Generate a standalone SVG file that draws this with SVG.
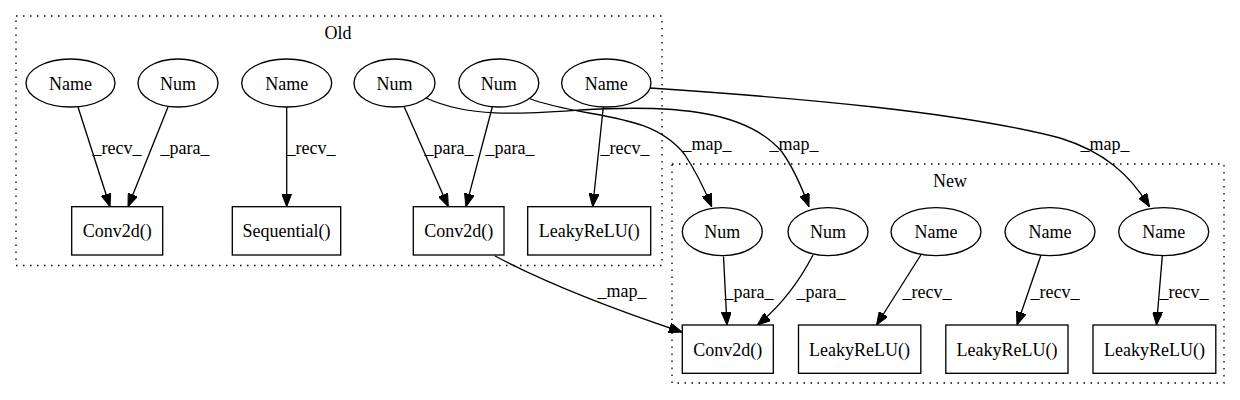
<svg xmlns="http://www.w3.org/2000/svg" width="1240" height="400" viewBox="0 0 1240 400" font-family="Liberation Serif, serif" font-size="18">
<style>
text{font-family:"Liberation Serif",serif;font-size:18px;fill:#000;text-anchor:middle}
.n ellipse,.n rect{fill:#fff;stroke:#000;stroke-width:1.33}
.cl{fill:none;stroke:#000;stroke-width:1.33;stroke-dasharray:1.5,5.5}
.e path{fill:none;stroke:#000;stroke-width:1.33;marker-end:url(#ah)}
</style>
<defs>
<marker id="ah" viewBox="0 0 13 10" refX="13" refY="5" markerWidth="13" markerHeight="10" markerUnits="userSpaceOnUse" orient="auto">
<path d="M0,0 L13,5 L0,10 z" fill="#000" stroke="#000" stroke-width="1"/>
</marker>
</defs>
<rect width="1240" height="400" fill="#fff"/>
<g id="clusters">
<rect class="cl" x="16" y="16" width="646" height="249.5"/>
<text x="338" y="39">Old</text>
<rect class="cl" x="672" y="164" width="552" height="219"/>
<text x="950" y="187">New</text>
</g>
<g id="connectors" class="e">
<path d="M78,107 L110,206.7"/>
<text x="117" y="154">_recv_</text>
<path d="M168,107 L128,206.7"/>
<text x="185" y="154">_para_</text>
<path d="M286.7,107 L286.7,206.7"/>
<text x="311" y="154">_recv_</text>
<path d="M404.3,107 L448.3,206.7"/>
<text x="449" y="154">_para_</text>
<path d="M492.3,107 L466,206.7"/>
<text x="510" y="154">_para_</text>
<path d="M603.3,107 L592.7,206.7"/>
<text x="625" y="154">_recv_</text>
<path d="M723.5,256.5 L727,325"/>
<text x="749" y="298">_para_</text>
<path d="M813,255 C800,280 782,305 757.3,325"/>
<text x="821" y="298">_para_</text>
<path d="M920.8,255 L876.5,325"/>
<text x="927" y="298">_recv_</text>
<path d="M1041,255 L1017,325"/>
<text x="1055" y="298">_recv_</text>
<path d="M1162.3,256 L1156.5,325"/>
<text x="1184" y="298">_recv_</text>
<path d="M495,256 C550,285 610,308 682,332"/>
<text x="622" y="297">_map_</text>
<path d="M528,98 C585,120 650,110 685,155 C695,170 704,188 711.7,206.7"/>
<text x="707" y="150">_map_</text>
<path d="M426,98 C470,118 520,114 580,110 C680,104 748,112 782,152 C792,166 801,185 809,206.7"/>
<text x="794" y="150">_map_</text>
<path d="M650,88 C800,98 960,112 1060,138 C1105,152 1130,175 1149.5,206.7"/>
<text x="1105" y="150">_map_</text>
</g>
<g id="old_name1" class="n"><ellipse cx="70.5" cy="83" rx="44.5" ry="24"/><text x="70.5" y="89.5">Name</text></g>
<g id="old_num1" class="n"><ellipse cx="178" cy="83" rx="40" ry="24"/><text x="178" y="89.5">Num</text></g>
<g id="old_name2" class="n"><ellipse cx="286.7" cy="83" rx="45" ry="24"/><text x="286.7" y="89.5">Name</text></g>
<g id="old_num2" class="n"><ellipse cx="394.5" cy="83" rx="40.5" ry="24"/><text x="394.5" y="89.5">Num</text></g>
<g id="old_num3" class="n"><ellipse cx="498.8" cy="83" rx="40" ry="24"/><text x="498.8" y="89.5">Num</text></g>
<g id="old_name3" class="n"><ellipse cx="606.3" cy="83" rx="44.7" ry="24"/><text x="606.3" y="89.5">Name</text></g>
<g id="old_conv1" class="n"><rect x="71.7" y="206.7" width="91" height="48.3"/><text x="117.2" y="237">Conv2d()</text></g>
<g id="old_seq" class="n"><rect x="232.3" y="206.7" width="108.4" height="48.3"/><text x="286.5" y="237">Sequential()</text></g>
<g id="old_conv2" class="n"><rect x="413.3" y="206.7" width="90.7" height="48.3"/><text x="458.7" y="237">Conv2d()</text></g>
<g id="old_leaky" class="n"><rect x="527.7" y="206.7" width="123" height="48.3"/><text x="589.2" y="237">LeakyReLU()</text></g>
<g id="new_num1" class="n"><ellipse cx="722.3" cy="231.7" rx="40" ry="24"/><text x="722.3" y="238">Num</text></g>
<g id="new_num2" class="n"><ellipse cx="828" cy="231.7" rx="40" ry="24"/><text x="828" y="238">Num</text></g>
<g id="new_name1" class="n"><ellipse cx="936" cy="231.7" rx="45" ry="24"/><text x="936" y="238">Name</text></g>
<g id="new_name2" class="n"><ellipse cx="1050" cy="231.7" rx="45" ry="24"/><text x="1050" y="238">Name</text></g>
<g id="new_name3" class="n"><ellipse cx="1163.7" cy="231.7" rx="45" ry="24"/><text x="1163.7" y="238">Name</text></g>
<g id="new_conv" class="n"><rect x="682.3" y="325" width="91" height="48.3"/><text x="727.8" y="355.5">Conv2d()</text></g>
<g id="new_leaky1" class="n"><rect x="798.5" y="325" width="122.3" height="48.3"/><text x="859.6" y="355.5">LeakyReLU()</text></g>
<g id="new_leaky2" class="n"><rect x="945.8" y="325" width="122.2" height="48.3"/><text x="1006.9" y="355.5">LeakyReLU()</text></g>
<g id="new_leaky3" class="n"><rect x="1093" y="325" width="122.8" height="48.3"/><text x="1154.4" y="355.5">LeakyReLU()</text></g>
</svg>
